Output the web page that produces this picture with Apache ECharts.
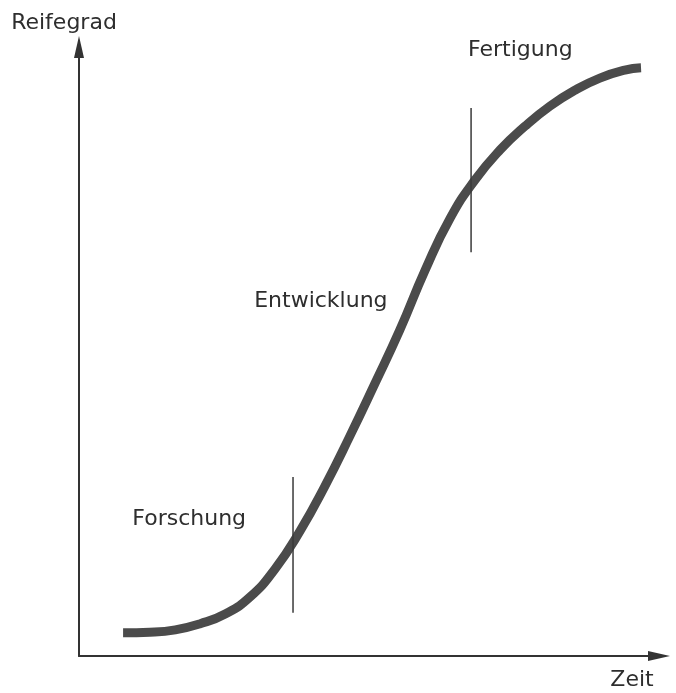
<!DOCTYPE html>
<html>
<head>
<meta charset="utf-8">
<script src="https://cdn.jsdelivr.net/npm/echarts@6/dist/echarts.min.js"></script>
<style>
  html, body { margin: 0; padding: 0; background: #fff; }
  #chart { width: 676px; height: 693px; }
</style>
</head>
<body>
<div id="chart"></div>
<script>
  // S-Kurve: Zeit (x) gegen Reifegrad (y), Werte 0..100
  var zeit = [7.6, 12.2, 16.6, 20.9, 25.2, 29.5, 33.8, 38.1, 42.4, 46.7, 51.0, 55.3, 59.7, 64.0, 68.3, 72.6, 76.9, 81.2, 85.5, 89.8, 94.1, 96.9]
  var reifegrad = [3.8, 3.9, 4.3, 5.3, 6.9, 9.7, 14.3, 20.5, 27.9, 36.1, 44.7, 53.5, 63.4, 71.9, 78.2, 83.1, 87.0, 90.3, 92.9, 94.9, 96.2, 96.6]

  // Phasengrenzen (senkrechte Striche)
  var grenzeForschung = [[36.9, 29.4], [36.9, 7.1]]
  var grenzeFertigung = [[67.6, 90.0], [67.6, 66.3]]

  // Phasenbeschriftungen
  var phasen = ['Forschung', 'Entwicklung', 'Fertigung']
  var phasenX = [19.0, 41.7, 76.1]
  var phasenY = [22.5, 58.3, 99.5]

  var kurve = zeit.map(function (x, i) {
    return [x, reifegrad[i]]
  })
  var beschriftung = phasen.map(function (name, i) {
    return { name: name, value: [phasenX[i], phasenY[i]] }
  })

  var textColor = '#2e2e2e'
  var fontFamily = 'DejaVu Sans'

  var chart = echarts.init(document.getElementById('chart'))
  var option = {
    backgroundColor: '#fff',
    animation: false,
    grid: {
      left: 79,
      right: 17,
      top: 47,
      bottom: 37
    },
    xAxis: {
      type: 'value',
      min: 0,
      max: 100,
      name: 'Zeit',
      nameLocation: 'end',
      nameGap: -27,
      nameTextStyle: {
        color: textColor,
        fontFamily: fontFamily,
        fontSize: 22,
        align: 'center',
        verticalAlign: 'top',
        padding: [13, 0, 0, 0]
      },
      axisLine: {
        symbol: ['none', 'triangle'],
        symbolSize: [10, 22],
        lineStyle: { color: '#333', width: 2 }
      },
      axisTick: { show: false },
      axisLabel: { show: false },
      splitLine: { show: false }
    },
    yAxis: {
      type: 'value',
      min: 0,
      max: 100,
      name: 'Reifegrad',
      nameLocation: 'end',
      nameGap: 13,
      nameTextStyle: {
        color: textColor,
        fontFamily: fontFamily,
        fontSize: 22,
        align: 'center',
        padding: [0, 30, 0, 0]
      },
      axisLine: {
        symbol: ['none', 'triangle'],
        symbolSize: [10, 22],
        lineStyle: { color: '#333', width: 2 }
      },
      axisTick: { show: false },
      axisLabel: { show: false },
      splitLine: { show: false }
    },
    series: [{
      type: 'line',
      data: kurve,
      smooth: 0.5,
      showSymbol: false,
      lineStyle: { color: '#4b4b4b', width: 9, cap: 'butt' }
    }, {
      type: 'line',
      data: grenzeForschung,
      showSymbol: false,
      lineStyle: { color: '#3a3a3a', width: 1.5 }
    }, {
      type: 'line',
      data: grenzeFertigung,
      showSymbol: false,
      lineStyle: { color: '#3a3a3a', width: 1.5 }
    }, {
      type: 'scatter',
      data: beschriftung,
      symbolSize: 0,
      itemStyle: { opacity: 1 },
      label: {
        show: true,
        position: 'inside',
        formatter: '{b}',
        color: textColor,
        fontFamily: fontFamily,
        fontSize: 22
      }
    }]
  }
  chart.setOption(option)
</script>
</body>
</html>
